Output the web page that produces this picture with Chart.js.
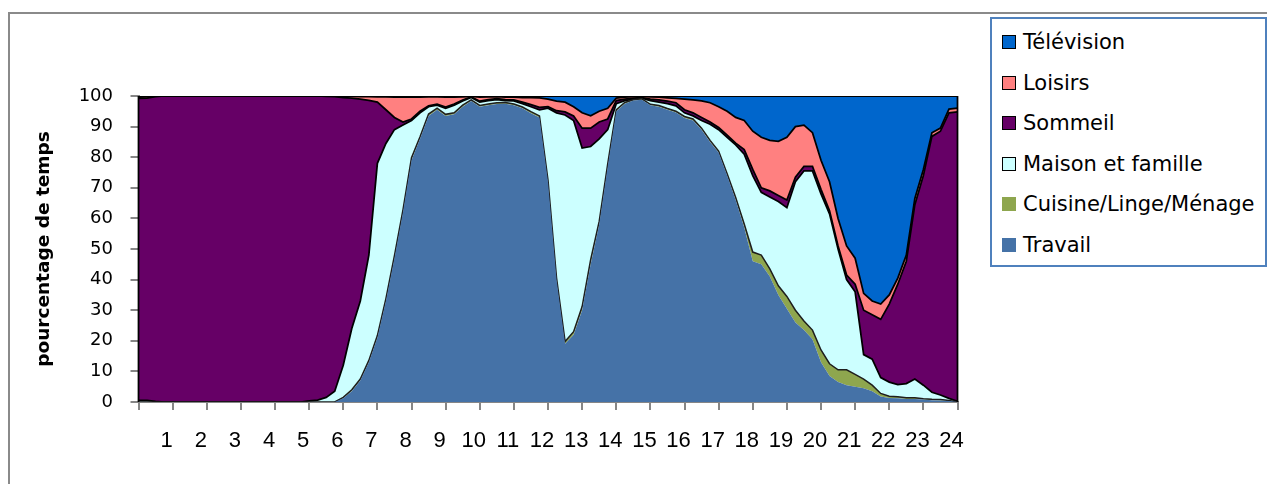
<!DOCTYPE html>
<html>
<head>
<meta charset="utf-8">
<script src="https://cdn.jsdelivr.net/npm/chart.js@4.4.1/dist/chart.umd.min.js"></script>
<style>
  html, body { margin: 0; padding: 0; background: #fff; overflow: hidden; }
  #wrap { position: relative; width: 1267px; height: 484px; overflow: hidden; }
  #frame { position: absolute; left: 8px; top: 12px; width: 1400px; height: 600px;
           border: 2px solid #8a8a8a; box-sizing: border-box; }
  #chart { position: absolute; left: 0; top: 0; }
  #legend { position: absolute; left: 990px; top: 17px; width: 277px; height: 250px;
            border: 2px solid #4f81bd; box-sizing: border-box; background: #fff;
            font-family: "DejaVu Sans", sans-serif; font-size: 21px; color: #000; }
  .item { position: absolute; left: 0; height: 26px; display: flex; align-items: center; white-space: nowrap; }
  .sw { width: 14px; height: 14px; box-sizing: border-box; margin-left: 10px; margin-right: 7px; }
</style>
</head>
<body>
<div id="wrap">
  <div id="frame"></div>
  <canvas id="chart" width="1267" height="484"></canvas>
  <div id="legend"></div>
</div>
<script>
// Time of day in quarter hours, 0 h to 24 h (one row per hour)
const hours = [
  0, 0.25, 0.5, 0.75,
  1, 1.25, 1.5, 1.75,
  2, 2.25, 2.5, 2.75,
  3, 3.25, 3.5, 3.75,
  4, 4.25, 4.5, 4.75,
  5, 5.25, 5.5, 5.75,
  6, 6.25, 6.5, 6.75,
  7, 7.25, 7.5, 7.75,
  8, 8.25, 8.5, 8.75,
  9, 9.25, 9.5, 9.75,
  10, 10.25, 10.5, 10.75,
  11, 11.25, 11.5, 11.75,
  12, 12.25, 12.5, 12.75,
  13, 13.25, 13.5, 13.75,
  14, 14.25, 14.5, 14.75,
  15, 15.25, 15.5, 15.75,
  16, 16.25, 16.5, 16.75,
  17, 17.25, 17.5, 17.75,
  18, 18.25, 18.5, 18.75,
  19, 19.25, 19.5, 19.75,
  20, 20.25, 20.5, 20.75,
  21, 21.25, 21.5, 21.75,
  22, 22.25, 22.5, 22.75,
  23, 23.25, 23.5, 23.75,
  24
];

const hourLabels = ['1','2','3','4','5','6','7','8','9','10','11','12',
                    '13','14','15','16','17','18','19','20','21','22','23','24'];

// Share of time (%) per activity, stacked from the bottom up
const travail = [
  0, 0, 0, 0,
  0, 0, 0, 0,
  0, 0, 0, 0,
  0, 0, 0, 0,
  0, 0, 0, 0,
  0, 0, 0, 0,
  1.2, 3.5, 7, 13,
  21, 33, 47, 62,
  79, 86, 93.5, 95.5,
  93.5, 94, 96.5, 98.4,
  96.5, 97, 97.4, 97.5,
  97, 96, 94.4, 93,
  72, 40, 19, 22,
  30, 45, 58, 77,
  95, 97.5, 98.5, 98.8,
  97, 96.5, 95.5, 94.6,
  92.8, 92, 89, 85,
  81.5, 74, 66, 57,
  46, 45, 41, 35,
  30.5, 26, 23.5, 20.5,
  13, 8.5, 6.5, 5.5,
  5, 4.5, 3.5, 1.8,
  1.3, 1.2, 1, 1,
  0.8, 0.6, 0.5, 0.3,
  0
];

const cuisine = [
  0, 0, 0, 0,
  0, 0, 0, 0,
  0, 0, 0, 0,
  0, 0, 0, 0,
  0, 0, 0, 0,
  0, 0, 0, 0,
  0.3, 0.5, 0.5, 0.6,
  0.7, 0.8, 0.8, 0.8,
  0.8, 0.7, 0.6, 0.5,
  0.5, 0.5, 0.5, 0.3,
  0.4, 0.4, 0.4, 0.4,
  0.4, 0.4, 0.5, 0.5,
  0.5, 0.6, 0.8, 1,
  1.2, 1.5, 1, 0.8,
  0.5, 0.4, 0.3, 0.3,
  0.3, 0.4, 0.4, 0.4,
  0.5, 0.5, 0.5, 0.5,
  0.5, 0.6, 0.8, 1.2,
  3, 3, 2.5, 3,
  4, 4, 3, 3,
  4, 4, 4, 5,
  4, 3, 2, 1,
  0.6, 0.5, 0.4, 0.4,
  0.3, 0.3, 0.3, 0.2,
  0
];

const maison = [
  0.5, 0.5, 0.2, 0,
  0, 0, 0, 0,
  0, 0, 0, 0,
  0, 0, 0, 0,
  0, 0, 0, 0,
  0.4, 0.6, 1.5, 3.5,
  10.5, 20, 25.5, 34.4,
  56.3, 50.7, 41.2, 27.7,
  12.2, 7.8, 2.4, 1.0,
  2.0, 2.5, 1.4, 0.8,
  1.1, 1.1, 1.0, 0.6,
  1.0, 1.1, 1.6, 2.0,
  23.5, 53.9, 74, 69,
  51.8, 37, 27, 11.2,
  2.0, 0.6, 0.2, 0.2,
  1.2, 1.1, 1.6, 1.8,
  1.2, 1.0, 2.5, 5.3,
  7.0, 11.9, 17.2, 22.8,
  25, 20.5, 23.5, 27.5,
  29, 42, 49, 52,
  51, 49, 39.5, 29.5,
  27, 8, 8.5, 5.2,
  4.6, 4.0, 4.6, 6.1,
  4.4, 2.3, 1.5, 0.7,
  0.2
];

const sommeil = [
  98.7, 98.8, 99.6, 100,
  100, 100, 100, 100,
  100, 100, 100, 100,
  100, 100, 100, 100,
  100, 100, 100, 100,
  99.6, 99.4, 98.4, 96.3,
  87.5, 75.3, 66, 50.6,
  20, 11, 4, 1,
  0.5, 0.5, 0.3, 0.3,
  0.4, 0.4, 0.3, 0.2,
  0.3, 0.3, 0.3, 0.3,
  0.3, 0.5, 0.7, 0.8,
  0.5, 0.7, 1.0, 1.5,
  6.5, 6, 5.5, 3.5,
  1.0, 0.5, 0.3, 0.2,
  0.5, 0.7, 0.8, 1.0,
  1.0, 1.0, 1.0, 0.7,
  0.7, 0.7, 0.6, 1.5,
  2, 1.5, 2, 2,
  2.5, 1.5, 1.5, 1.5,
  1.5, 1, 1, 1.5,
  2.5, 14.5, 14.5, 19,
  25.5, 32.8, 40, 57,
  68.5, 83.6, 86.2, 93.3,
  94.6
];

const loisirs = [
  0.4, 0.4, 0.2, 0,
  0, 0, 0, 0,
  0, 0, 0, 0,
  0, 0, 0, 0,
  0, 0, 0, 0,
  0, 0, 0.1, 0.2,
  0.4, 0.6, 0.8, 1.2,
  1.7, 4.2, 6.6, 8.1,
  7.1, 4.6, 2.9, 2.4,
  3.2, 2.2, 1.0, 0.2,
  1.3, 0.9, 0.7, 0.8,
  0.9, 1.5, 2.3, 3.1,
  2.5, 3.1, 3.2, 3,
  5, 4, 3.5, 3.5,
  0.8, 0.6, 0.5, 0.4,
  0.7, 0.9, 1.1, 1.4,
  3.5, 4.2, 5.4, 6.3,
  6.8, 7.8, 8.4, 9.5,
  12.5, 16.5, 16.5, 17.7,
  20.5, 16.5, 13.5, 11,
  9.5, 9.5, 9, 9.5,
  8.5, 5.5, 4.5, 5,
  3, 2, 2, 2,
  2, 1.2, 1, 1.2,
  1.2
];

const television = [
  0.4, 0.3, 0, 0,
  0, 0, 0, 0,
  0, 0, 0, 0,
  0, 0, 0, 0,
  0, 0, 0, 0,
  0, 0, 0, 0,
  0.1, 0.1, 0.2, 0.2,
  0.3, 0.3, 0.4, 0.4,
  0.4, 0.4, 0.3, 0.3,
  0.4, 0.4, 0.3, 0.1,
  0.4, 0.3, 0.2, 0.4,
  0.4, 0.5, 0.5, 0.6,
  1, 1.7, 2, 3.5,
  5.5, 6.5, 5, 4,
  0.7, 0.4, 0.2, 0.1,
  0.3, 0.4, 0.6, 0.8,
  1.0, 1.3, 1.6, 2.2,
  3.5, 5.0, 7.0, 8,
  11.5, 13.5, 14.5, 14.8,
  13.5, 10, 9.5, 12,
  21, 28, 40, 49,
  53, 64.5, 67, 68,
  65, 59.5, 52, 33.5,
  24, 12, 10.5, 4.3,
  4
];

const seriesNames = ['Travail', 'Cuisine/Linge/Ménage', 'Maison et famille', 'Sommeil', 'Loisirs', 'Télévision'];
const seriesValues = [travail, cuisine, maison, sommeil, loisirs, television];
const fillColors = ['#4572a7', '#8ea64e', '#ccffff', '#660066', '#ff8080', '#0066cc'];
const edgeColors = [null, '#1e1e1e', '#000000', '#000000', '#000000', '#000000'];
const swatchBorder = [false, false, true, true, true, true];

const datasets = seriesNames.map((name, i) => ({
  label: name,
  data: seriesValues[i],
  backgroundColor: fillColors[i],
  borderColor: edgeColors[i] || fillColors[i],
  borderWidth: edgeColors[i] ? (i === 1 ? 1.5 : 1.75) : 0,
  fill: i === 0 ? 'origin' : '-1',
  pointRadius: 0,
  tension: 0
}));

// Black outline on the left and right ends of the stacked areas
const areaEnds = {
  id: 'areaEnds',
  afterDatasetsDraw(chart) {
    const { ctx, scales: { x, y } } = chart;
    ctx.save();
    ctx.strokeStyle = '#000';
    ctx.lineWidth = 1.75;
    [0, 24].forEach(v => {
      const px = x.getPixelForValue(v);
      ctx.beginPath();
      ctx.moveTo(px, y.getPixelForValue(0));
      ctx.lineTo(px, y.getPixelForValue(100));
      ctx.stroke();
    });
    ctx.restore();
  }
};

const axisGray = '#868686';

const chart = new Chart(document.getElementById('chart'), {
  type: 'line',
  data: { labels: hours, datasets },
  plugins: [areaEnds],
  options: {
    responsive: false,
    animation: false,
    devicePixelRatio: 1,
    layout: { padding: { left: 30, right: 309.5, top: 96, bottom: 22 } },
    plugins: {
      legend: { display: false },
      tooltip: { enabled: false },
      filler: { propagate: false }
    },
    scales: {
      x: {
        type: 'linear',
        min: 0,
        max: 24,
        ticks: {
          stepSize: 1,
          autoSkip: false,
          maxRotation: 0,
          labelOffset: -6,
          padding: 18,
          color: '#000',
          font: { family: 'Liberation Sans', size: 22 },
          callback: v => (v >= 1 && Number.isInteger(v)) ? hourLabels[v - 1] : ''
        },
        grid: { drawOnChartArea: false, drawTicks: true, tickLength: 8, color: axisGray, lineWidth: 2 },
        border: { color: axisGray, width: 2 },
        afterFit: s => { s.height = 60; }
      },
      y: {
        stacked: true,
        min: 0,
        max: 100,
        ticks: {
          stepSize: 10,
          padding: 17.5,
          color: '#000',
          font: { family: 'DejaVu Sans', size: 18 }
        },
        grid: { drawOnChartArea: false, drawTicks: true, tickLength: 8, color: axisGray, lineWidth: 2 },
        border: { color: axisGray, width: 2 },
        title: {
          display: true,
          text: 'pourcentage de temps',
          color: '#000',
          font: { family: 'DejaVu Sans', size: 18.5, weight: 'bold' },
          padding: { top: 3, bottom: 0 }
        },
        afterFit: s => { s.width = 108.5; }
      }
    }
  }
});

// Legend box, listed from the top series down
const legend = document.getElementById('legend');
for (let k = 0; k < seriesNames.length; k++) {
  const i = seriesNames.length - 1 - k;
  const row = document.createElement('div');
  row.className = 'item';
  row.style.top = (10 + k * 40.6) + 'px';
  const sw = document.createElement('span');
  sw.className = 'sw';
  sw.style.background = fillColors[i];
  if (swatchBorder[i]) sw.style.border = '1.5px solid #000';
  const tx = document.createElement('span');
  tx.textContent = seriesNames[i];
  row.appendChild(sw);
  row.appendChild(tx);
  legend.appendChild(row);
}
</script>
</body>
</html>
